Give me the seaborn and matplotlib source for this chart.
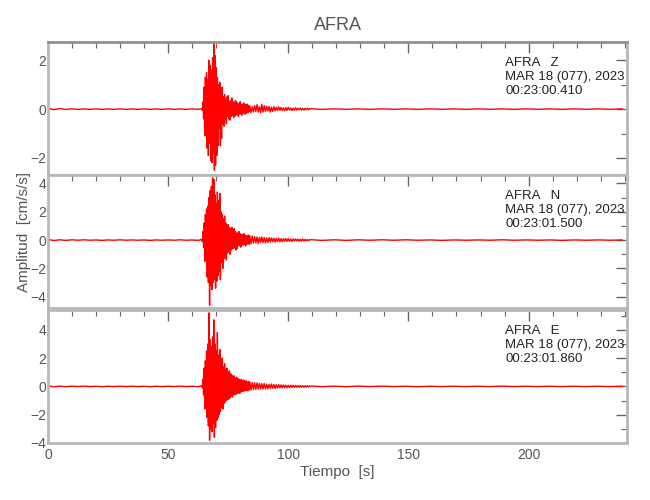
import numpy as np
import matplotlib
matplotlib.use("Agg")
import matplotlib.pyplot as plt
import seaborn as sns
from matplotlib.ticker import MultipleLocator

sns.set_style("white")
plt.rcParams['font.family'] = ['Liberation Sans', 'DejaVu Sans']

# ---- data (signed peak values in cm/s/s) ----
station = "AFRA"
components = ["Z", "N", "E"]
date_label = "MAR 18 (077), 2023"
start_times = ["00:23:00.410", "00:23:01.500", "00:23:01.860"]

# sample grids of each segment (s)
t_pre = np.arange(0, 64, 2.5)      # pre-event noise
t_main = np.arange(64, 84, 0.25)   # strong motion
t_coda = np.arange(84, 109, 0.5)   # coda
t_tail = np.arange(109, 241, 5)    # quiet tail

z_pre = [0.03, -0.02, 0.02, -0.01, 0.01, -0.01, 0.01, -0.01, 0.01, -0.01, 0.01, -0.01, 0.01,
         -0.01, 0.01, -0.01, 0.01, -0.01, 0.01, -0.01, 0.01, -0.01, 0.01, -0.01, 0.01, -0.01]
z_main = [0.02, -0.05, 0.3, -0.4, 0.9, -1.1, 1.3, -0.8, 1.5, -1.6, 1.2, -1.9,
          2.0, -1.4, 1.8, -2.1, 1.6, -2.2, 2.1, -1.8, 2.7, -2.5, 2.2, -2.3,
          1.7, -1.9, 1.3, -1.5, 1.0, -0.8, 1.1, -1.5, 0.7, -1.2, 0.9, -0.6,
          0.5, -0.7, 0.6, -0.4, 0.4, -0.6, 0.5, -0.3, 0.55, -0.4, 0.3, -0.45,
          0.35, -0.3, 0.45, -0.25, 0.3, -0.35, 0.25, -0.3, 0.35, -0.2, 0.3, -0.25,
          0.2, -0.3, 0.25, -0.2, 0.3, -0.2, 0.2, -0.25, 0.2, -0.15, 0.25, -0.2,
          0.15, -0.2, 0.2, -0.15, 0.2, -0.15, 0.15, -0.1]
z_coda = [0.12, -0.15, 0.1, -0.12, 0.14, -0.1, 0.18, -0.12, 0.1, -0.15,
          0.2, -0.12, 0.15, -0.1, 0.12, -0.08, 0.1, -0.12, 0.08, -0.1,
          0.1, -0.07, 0.08, -0.06, 0.09, -0.05, 0.07, -0.06, 0.05, -0.07,
          0.06, -0.05, 0.07, -0.04, 0.05, -0.06, 0.04, -0.05, 0.05, -0.04,
          0.04, -0.03, 0.05, -0.04, 0.03, -0.04, 0.03, -0.03, 0.04, -0.03]
z_tail = [0.02, -0.01, 0.01, -0.01, 0.01, -0.01, 0.01, -0.01, 0.01, -0.01, 0.01, -0.01, 0.01, -0.01,
          0.01, -0.01, 0.01, -0.01, 0.01, -0.01, 0.01, -0.01, 0.01, -0.01, 0.01, -0.01, 0.01]

n_pre = [0.04, -0.03, 0.02, -0.02, 0.02, -0.01, 0.02, -0.01, 0.01, -0.02, 0.01, -0.01, 0.02,
         -0.01, 0.01, -0.01, 0.01, -0.02, 0.01, -0.01, 0.01, -0.01, 0.02, -0.01, 0.01, -0.02]
n_main = [0.05, -0.1, 0.6, -0.5, 1.2, -1.5, 1.8, -1.3, 2.2, -2.6, 2.4, -3.0,
          3.0, -4.6, 3.5, -3.2, 3.8, -3.5, 4.4, -3.0, 4.3, -2.8, 3.2, -3.4,
          2.6, -2.9, 3.4, -2.5, 2.8, -2.2, 3.3, -2.8, 2.0, -1.6, 1.8, -2.0,
          1.5, -1.3, 1.7, -1.2, 1.2, -1.4, 1.0, -0.9, 1.1, -0.8, 0.9, -1.0,
          0.8, -0.7, 0.9, -0.6, 0.7, -0.6, 0.8, -0.5, 0.6, -0.7, 0.5, -0.6,
          0.5, -0.4, 0.6, -0.4, 0.45, -0.5, 0.4, -0.35, 0.4, -0.35, 0.45, -0.3,
          0.35, -0.4, 0.3, -0.3, 0.3, -0.25, 0.35, -0.3]
n_coda = [0.28, -0.25, 0.3, -0.22, 0.25, -0.2, 0.22, -0.25, 0.2, -0.18,
          0.22, -0.17, 0.18, -0.2, 0.15, -0.16, 0.18, -0.14, 0.15, -0.12,
          0.14, -0.15, 0.12, -0.1, 0.13, -0.11, 0.1, -0.12, 0.11, -0.09,
          0.1, -0.08, 0.11, -0.09, 0.08, -0.1, 0.09, -0.07, 0.08, -0.06,
          0.07, -0.08, 0.06, -0.07, 0.08, -0.06, 0.05, -0.06, 0.05, -0.05]
n_tail = [0.03, -0.02, 0.02, -0.02, 0.02, -0.01, 0.02, -0.01, 0.02, -0.01, 0.01, -0.02, 0.01, -0.01,
          0.01, -0.01, 0.02, -0.01, 0.01, -0.01, 0.01, -0.02, 0.01, -0.01, 0.01, -0.01, 0.01]

e_pre = [0.04, -0.03, 0.02, -0.02, 0.02, -0.01, 0.02, -0.01, 0.01, -0.02, 0.01, -0.01, 0.02,
         -0.01, 0.01, -0.01, 0.01, -0.02, 0.01, -0.01, 0.01, -0.01, 0.02, -0.01, 0.01, -0.02]
e_main = [0.05, -0.1, 0.5, -0.6, 1.3, -1.6, 1.8, -1.5, 2.5, -2.2, 3.0, -2.8,
          5.2, -3.8, 3.3, -3.0, 2.8, -3.2, 3.5, -2.6, 4.7, -3.6, 3.0, -2.9,
          2.5, -2.4, 3.8, -2.2, 2.2, -2.0, 2.6, -1.8, 1.8, -1.5, 2.0, -1.6,
          1.4, -1.2, 1.6, -1.1, 1.2, -1.0, 1.3, -0.9, 1.0, -0.9, 1.1, -0.8,
          0.9, -0.7, 0.8, -0.75, 0.7, -0.6, 0.75, -0.55, 0.6, -0.55, 0.65, -0.5,
          0.55, -0.45, 0.5, -0.5, 0.45, -0.4, 0.5, -0.35, 0.4, -0.35, 0.45, -0.3,
          0.35, -0.3, 0.4, -0.3, 0.3, -0.3, 0.35, -0.25]
e_coda = [0.3, -0.25, 0.28, -0.24, 0.26, -0.22, 0.25, -0.2, 0.22, -0.2,
          0.2, -0.18, 0.2, -0.17, 0.16, -0.18, 0.15, -0.14, 0.16, -0.13,
          0.13, -0.14, 0.12, -0.11, 0.12, -0.1, 0.11, -0.1, 0.1, -0.09,
          0.09, -0.1, 0.08, -0.09, 0.09, -0.07, 0.08, -0.07, 0.07, -0.06,
          0.07, -0.06, 0.06, -0.06, 0.05, -0.06, 0.05, -0.05, 0.05, -0.04]
e_tail = [0.03, -0.02, 0.02, -0.02, 0.02, -0.01, 0.02, -0.01, 0.01, -0.02, 0.01, -0.01, 0.01, -0.01,
          0.01, -0.01, 0.02, -0.01, 0.01, -0.01, 0.01, -0.01, 0.01, -0.01, 0.01, -0.01, 0.01]

traces = {
    "Z": [z_pre, z_main, z_coda, z_tail],
    "N": [n_pre, n_main, n_coda, n_tail],
    "E": [e_pre, e_main, e_coda, e_tail],
}
y_limits = [(-2.7, 2.75), (-4.8, 4.6), (-4.0, 5.4)]
y_ticks = [[-2, 0, 2], [-4, -2, 0, 2, 4], [-4, -2, 0, 2, 4]]

time = np.concatenate([t_pre, t_main, t_coda, t_tail])

# ---- figure ----
axis_grey = "#b8b8b8"
text_grey = "#555555"
fig = plt.figure(figsize=(6.5, 5.0), dpi=100)

left, width = 0.0738, 0.891
bottoms = [0.65, 0.384, 0.114]
height = 0.266

axes = []
for i, comp in enumerate(components):
    ax = fig.add_axes([left, bottoms[i], width, height])
    amp = np.concatenate([np.array(s, dtype=float) for s in traces[comp]])
    sns.lineplot(x=time, y=amp, ax=ax, color="red", linewidth=1.0,
                 estimator=None, sort=False)

    ax.set_xlim(0, 241)
    ax.set_ylim(*y_limits[i])
    ax.set_yticks(y_ticks[i])
    ax.yaxis.set_minor_locator(MultipleLocator(1))
    ax.xaxis.set_major_locator(MultipleLocator(50))
    ax.xaxis.set_minor_locator(MultipleLocator(10))
    ax.tick_params(which="both", direction="in", top=True, right=True,
                   color="#666666", labelcolor=text_grey, labelsize=10)
    ax.tick_params(which="major", length=8, width=1.0)
    ax.tick_params(which="minor", length=4, width=0.8)
    ax.tick_params(axis="y", which="major", pad=1)
    for sp in ax.spines.values():
        sp.set_color(axis_grey)
        sp.set_linewidth(2)
    if i < 2:
        ax.set_xticklabels([])
    ax.set_xlabel("")
    ax.set_ylabel("")

    ax.text(0.79, 0.885, f"{station}   {comp}\n{date_label}\n{start_times[i]}",
            transform=ax.transAxes, va="top", ha="left", fontsize=9.5,
            color="#222222", linespacing=1.2)
    axes.append(ax)

axes[0].spines["top"].set_color("#909090")
axes[0].set_title(station, fontsize=13, color=text_grey, pad=9)
axes[2].set_xlabel("Tiempo  [s]", fontsize=11, color=text_grey, labelpad=2)
fig.text(0.037, 0.536, "Amplitud  [cm/s/s]", rotation=90, ha="center", va="center",
         fontsize=11, color=text_grey)

fig.savefig("out.png", dpi=100)
